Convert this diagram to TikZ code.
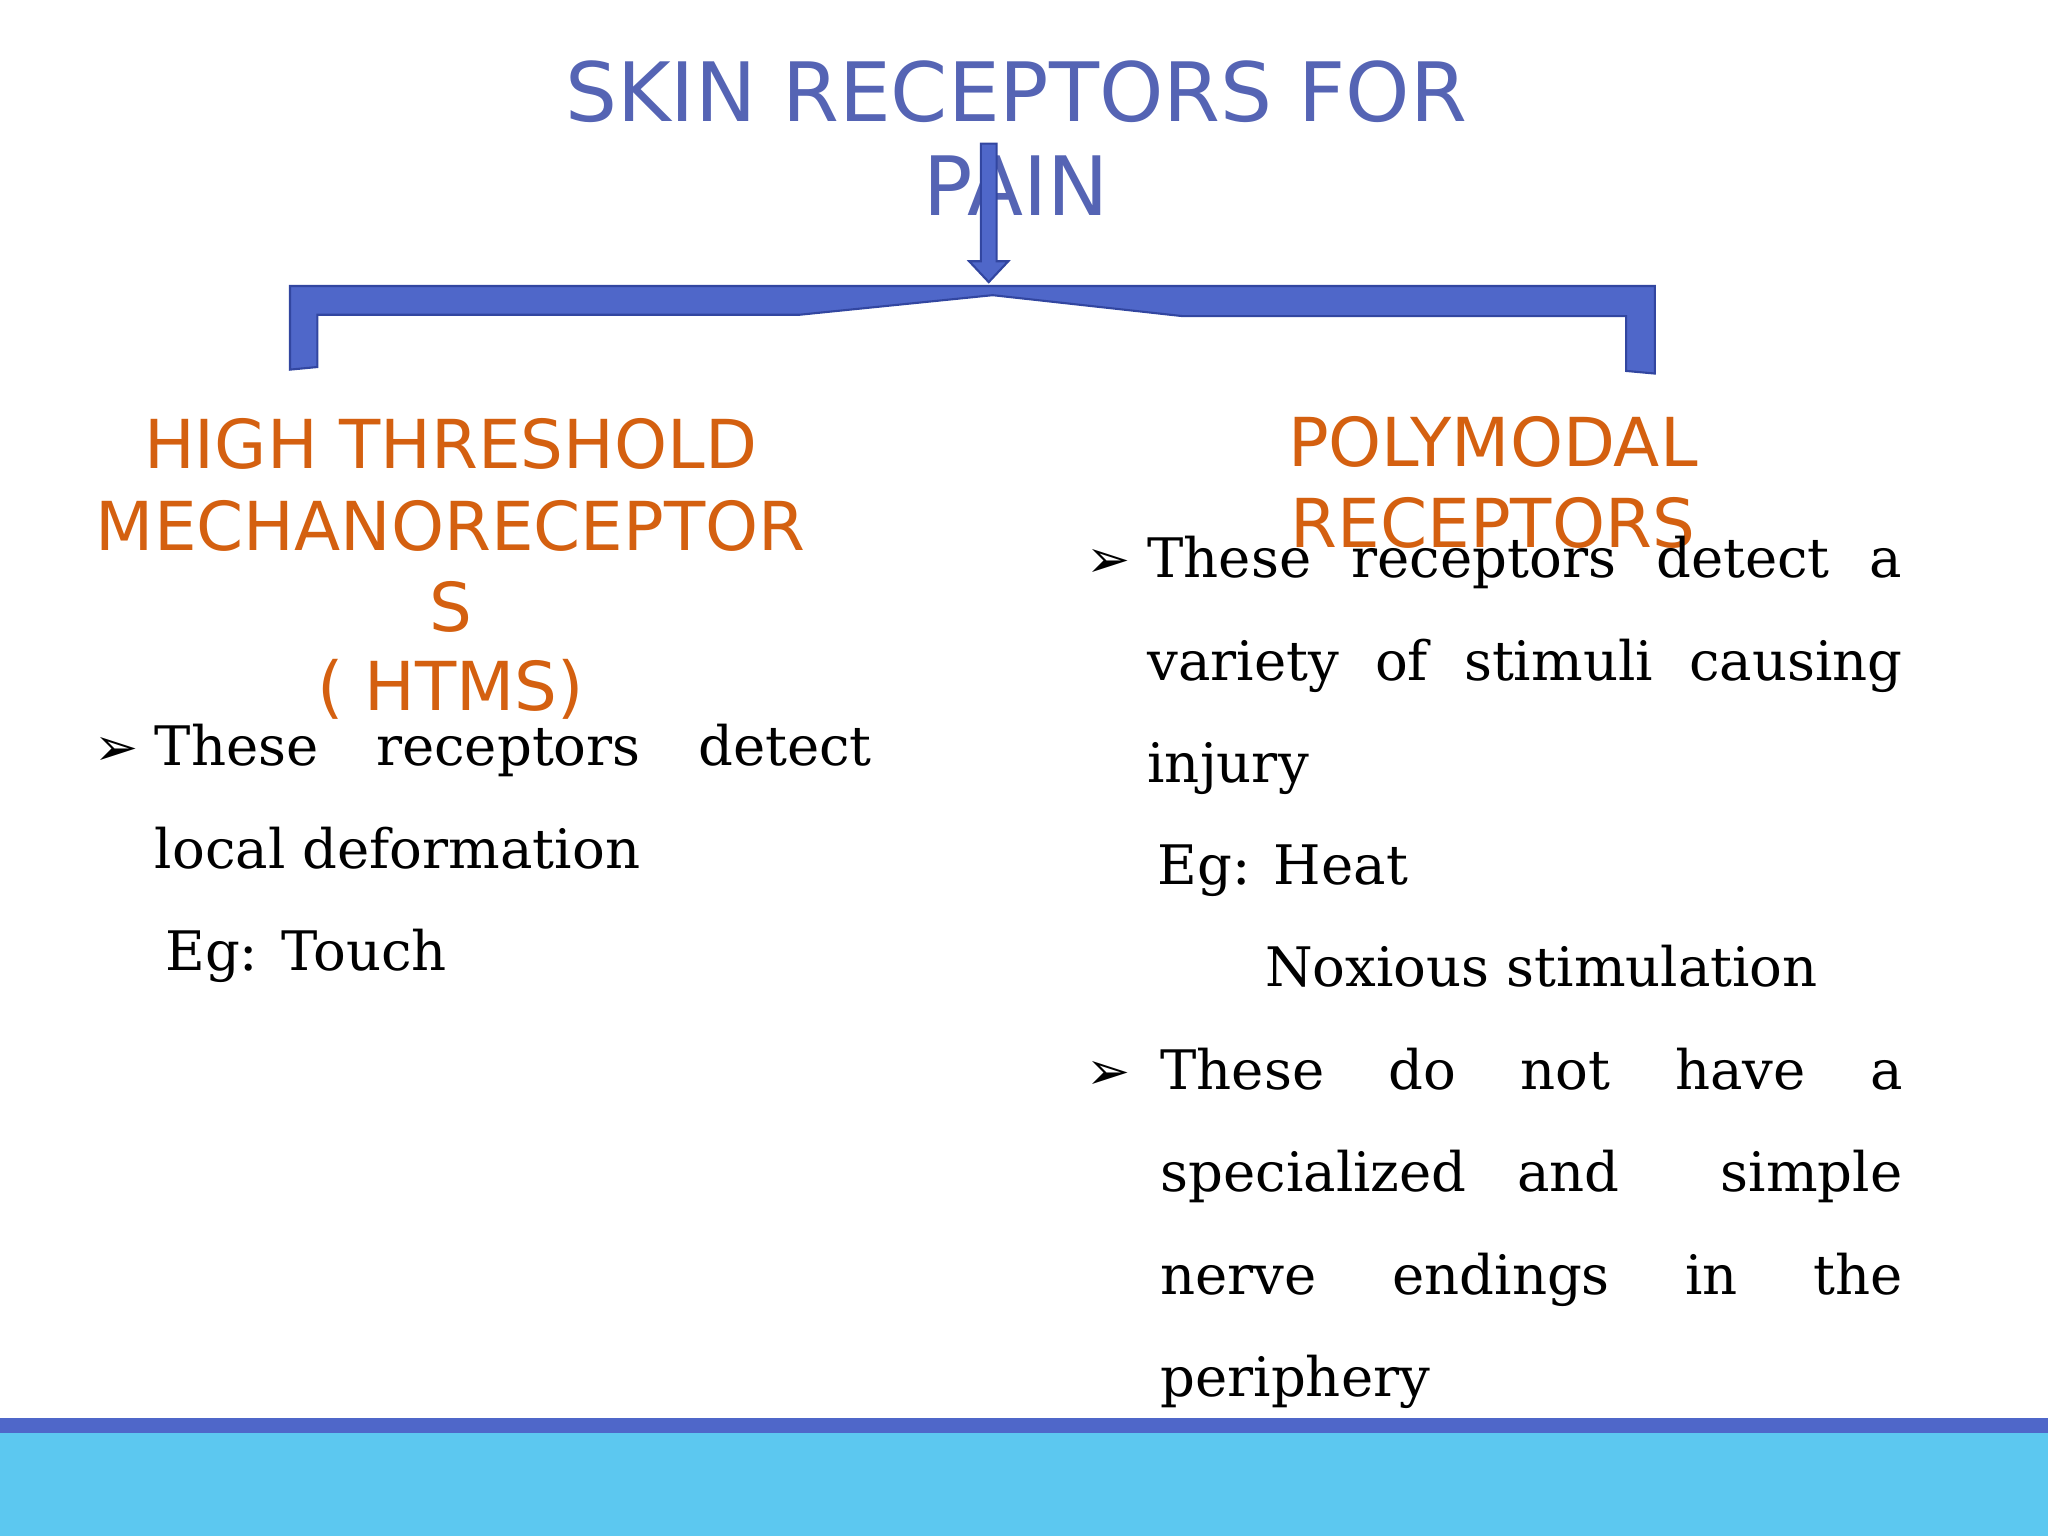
\documentclass[tikz,border=0pt]{standalone}
\usepackage{fontspec}
\setmainfont{DejaVu Serif}
\newfontfamily\hsans{DejaVu Sans}
\definecolor{ttl}{RGB}{85,100,180}
\definecolor{org}{RGB}{212,96,16}
\definecolor{brk}{RGB}{79,103,201}
\definecolor{brkd}{RGB}{50,70,160}
\definecolor{lblue}{RGB}{92,200,240}
\newcommand{\jl}[2]{\hbox to #1{#2}}
\begin{document}
\begin{tikzpicture}[x=0.013061cm,y=-0.013061cm,
  ttlstyle/.style={text=ttl,font=\hsans\fontsize{23.3}{26}\selectfont,inner sep=0},
  head/.style={text=org,font=\hsans\fontsize{19.2}{24}\selectfont,inner sep=0},
  body/.style={font=\fontsize{15.5}{18}\selectfont,inner sep=0,anchor=mid west},
  bul/.style={font=\hsans\fontsize{15}{18}\selectfont,inner sep=0,anchor=mid west}]
\useasboundingbox (0,0) rectangle (1568,1176);
% bottom bands
\fill[lblue] (0,1096) rectangle (1568,1176);
\fill[brk] (0,1086) rectangle (1568,1097);
% bracket
\filldraw[fill=brk,draw=brkd,line width=0.6pt] (222,219) -- (1267,219) -- (1267,286) -- (1245,284) -- (1245,242) -- (905,242) -- (760,226) -- (612,241) -- (243,241) -- (243,281) -- (222,283) -- cycle;
% title
\node[ttlstyle] (t1) at (778,70) {SKIN RECEPTORS FOR};
\node[ttlstyle] (t2) at (778,142) {PAIN};
% arrow
\filldraw[fill=brk,draw=brkd,line width=0.6pt] (751,110) -- (763,110) -- (763,200) -- (772,200) -- (757,216) -- (742,200) -- (751,200) -- cycle;
% headings
\node[head] (h1) at (345,340) {HIGH THRESHOLD};
\node[head] (h2) at (345,403) {MECHANORECEPTOR};
\node[head] (h3) at (345,465) {S};
\node[head] (h4) at (345,528) {( HTMS)};
\node[head] (p1) at (1143,338) {POLYMODAL};
\node[head] (p2) at (1143,400) {RECEPTORS};
% left text
\node[bul] (lb) at (72,579) {➢};
\node[body] (l1) at (118,579) {\jl{7.17cm}{These\hfill receptors\hfill detect}};
\node[body] (l2) at (118,658) {local deformation};
\node[body] (l3) at (126,736) {Eg: Touch};
% right text
\node[bul] (rb1) at (831,435) {➢};
\node[body] (r1) at (878,435) {\jl{7.55cm}{These\hfill receptors\hfill detect\hfill a}};
\node[body] (r2) at (878,514) {\jl{7.55cm}{variety\hfill of\hfill stimuli\hfill causing}};
\node[body] (r3) at (878,592) {injury};
\node[body] (r4) at (886,670) {Eg: Heat};
\node[body] (r5) at (968,748) {Noxious stimulation};
\node[bul] (rb2) at (831,827) {➢};
\node[body] (r6) at (888,827) {\jl{7.42cm}{These\hfill do\hfill not\hfill have\hfill a}};
\node[body] (r7) at (888,905) {\jl{7.42cm}{specialized\hfill and\hfill\hfill simple}};
\node[body] (r8) at (888,984) {\jl{7.42cm}{nerve\hfill endings\hfill in\hfill the}};
\node[body] (r9) at (888,1062) {periphery};
\end{tikzpicture}
\end{document}
